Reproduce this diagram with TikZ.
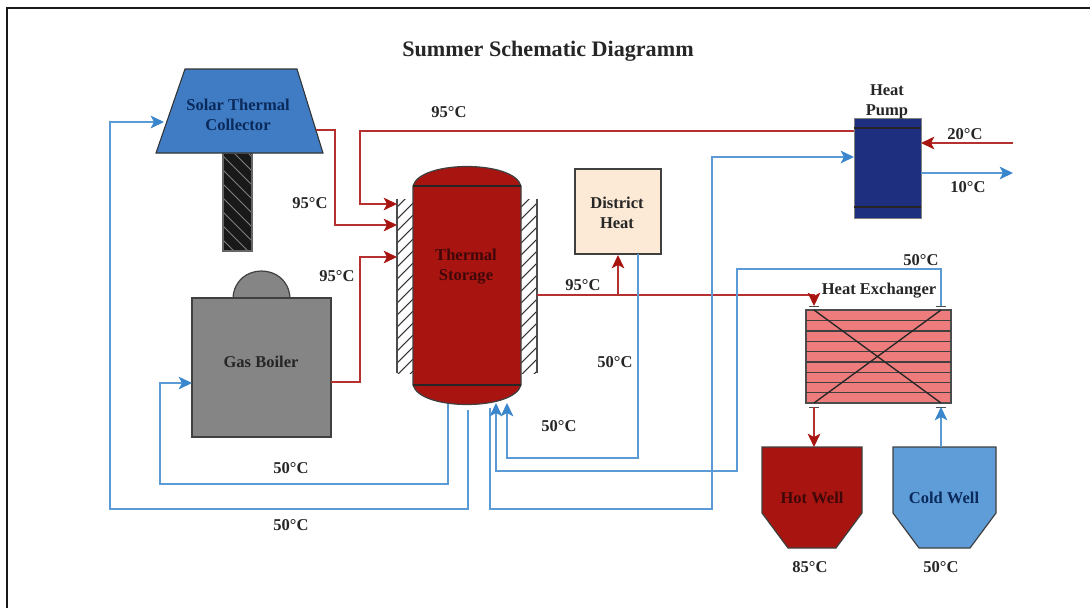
\documentclass[tikz,border=0pt]{standalone}
\usepackage{fontspec}
\setmainfont{Liberation Serif}
\usetikzlibrary{arrows.meta}
\definecolor{tankred}{HTML}{A81410}
\definecolor{pipered}{HTML}{B5302F}
\definecolor{pipeblue}{HTML}{5B9BD5}
\definecolor{tipblue}{HTML}{3A86CC}
\definecolor{solarblue}{HTML}{3F7CC4}
\definecolor{coldblue}{HTML}{5F9DD8}
\definecolor{pumpblue}{HTML}{1F2F7F}
\definecolor{boilergray}{HTML}{858585}
\definecolor{heatcream}{HTML}{FCE9D6}
\definecolor{hexred}{HTML}{EE7C7C}
\definecolor{textblue}{HTML}{0B2A5C}
\definecolor{textred}{HTML}{3F0808}
\tikzset{
    part/.style={draw=black!75, line width=0.9pt},
    label/.style={font=\bfseries\fontsize{12.4}{15}\selectfont, text=black!85, align=center, inner sep=0pt},
    hotpipe/.style={draw=pipered, line width=1.1pt},
    coldpipe/.style={draw=pipeblue, line width=1.1pt},
    hotflow/.style={hotpipe, -{Stealth[length=10pt,width=9.5pt,inset=2.5pt,color=tankred]}},
    coldflow/.style={coldpipe, -{Stealth[length=10pt,width=9.5pt,inset=2.5pt,color=tipblue]}},
}
\begin{document}
\begin{tikzpicture}[x=0.75pt, y=-0.75pt]
    \useasboundingbox (0,0) rectangle (1090,608);
    \draw[line width=1pt, black!90] (7,608) -- (7,8) -- (1090,8);
    \node[label, font=\bfseries\fontsize{16.6}{18}\selectfont] (title) at (548,51) {Summer Schematic Diagramm};

    % solar collector on its post
    \fill[black!90] (223,153) rectangle (252,251);
    \begin{scope}
        \clip (223,153) rectangle (252,251);
        \foreach \i in {0,14,...,126}
            \draw[black!50, line width=0.6pt] (215,120+\i) -- (260,165+\i);
    \end{scope}
    \draw[part, draw=black!60] (223,153) rectangle (252,251);
    \draw[draw=black!80, line width=0.8pt, fill=solarblue] (185,69) -- (297,69) -- (323,153) -- (156,153) -- cycle;
    \node[label, text=textblue] (solar) at (238,114.5) {Solar Thermal\\Collector};
    \coordinate (solarin) at (164,122);
    \coordinate (solarout) at (316,130);

    % gas boiler
    \draw[part, fill=boilergray] (233,298) .. controls (235,262) and (288,262) .. (290,298) -- cycle;
    \node[part, fill=boilergray, minimum width=104.25pt, minimum height=104.25pt, inner sep=0pt] (boiler) at (261.5,367.5) {};
    \node[label] (boilertext) at (261,362) {Gas Boiler};
    \coordinate (boilerin) at (192,383);
    \coordinate (boilerout) at (331,382);

    % thermal storage with its insulation
    \foreach \wall in {397,521}{
        \begin{scope}
            \clip (\wall,199) rectangle (\wall+16,373);
            \foreach \i in {0,12,...,192}
                \draw[black!80, line width=0.8pt] (\wall,207+\i) -- (\wall+16,191+\i);
        \end{scope}
    }
    \draw[black!70, line width=0.8pt] (397,199) -- (397,373);
    \draw[black!70, line width=0.8pt] (537,199) -- (537,373);
    \draw[part, fill=tankred] (413,186) .. controls (420,160) and (514,160) .. (521,186) -- (521,385)
        .. controls (514,411) and (420,411) .. (413,385) -- cycle;
    \draw[black!85, line width=0.9pt] (413,186) -- (521,186);
    \draw[black!85, line width=0.9pt] (413,385) -- (521,385);
    \node[label, text=textred] (storage) at (466,267) {Thermal\\Storage};
    \coordinate (storagea) at (397,204);
    \coordinate (storageb) at (397,225);
    \coordinate (storagec) at (397,257);
    \coordinate (storageout) at (537,295);
    \coordinate (storagereta) at (448,404);
    \coordinate (storageretb) at (468,410);
    \coordinate (storageretc) at (490,408);
    \coordinate (storageind) at (496,403);
    \coordinate (storageine) at (507,403);

    % district heat
    \node[part, fill=heatcream, minimum width=64.5pt, minimum height=63.75pt, inner sep=0pt] (district) at (618,211.5) {};
    \node[label] (districttext) at (617,213) {District\\Heat};
    \coordinate (districtin) at (618,255);
    \coordinate (districtout) at (638,254);
    \coordinate (branch) at (618,295);

    % heat pump
    \node[draw=black!50, line width=0.6pt, fill=pumpblue, minimum width=50.25pt, minimum height=75pt, inner sep=0pt] (pump) at (887.5,168) {};
    \draw[black!85, line width=0.8pt] (pump.west |- 0,128) -- (pump.east |- 0,128);
    \draw[black!85, line width=0.8pt] (pump.west |- 0,207) -- (pump.east |- 0,207);
    \node[label] (pumptext) at (887,102) {Heat\\Pump};
    \coordinate (pumphot) at (854,131);
    \coordinate (pumpcold) at (854,157);
    \coordinate (pumpin) at (921,143);
    \coordinate (pumpout) at (921,173);
    \coordinate (sourcein) at (1013,143);
    \coordinate (sourceout) at (1013,173);

    % heat exchanger
    \node[draw=black!70, line width=0.8pt, fill=hexred, minimum width=108.75pt, minimum height=69.75pt, inner sep=0pt] (hex) at (878.5,356.5) {};
    \foreach \y in {320.7,331,341.3,351.7,362,372.3,382.7,392.7}
        \draw[black!75, line width=0.9pt] (806,\y) -- (951,\y);
    \coordinate (hexa) at (814,306);
    \coordinate (hexb) at (941,306);
    \coordinate (hexc) at (814,407);
    \coordinate (hexd) at (941,407);
    \draw[black!85, line width=1pt] (hexa) ++ (0,4) -- (941,403);
    \draw[black!85, line width=1pt] (hexb) ++ (0,4) -- (814,403);
    \foreach \p in {hexa,hexb,hexc,hexd}
        \draw[black!70, line width=0.7pt] (\p) ++ (-5,0) -- ++ (10,0);
    \node[label] (hextext) at (879,290.5) {Heat Exchanger};

    % wells
    \draw[part, fill=tankred] (762,447) -- (862,447) -- (862,513) -- (836,548) -- (788,548) -- (762,513) -- cycle;
    \draw[part, fill=coldblue] (893,447) -- (996,447) -- (996,513) -- (970,548) -- (919,548) -- (893,513) -- cycle;
    \node[label, text=textred] (hot) at (812,498) {Hot Well};
    \node[label, text=textblue] (cold) at (944,498) {Cold Well};
    \coordinate (hottop) at (814,447);
    \coordinate (coldtop) at (941,447);

    % pipes
    \draw[hotflow] (solarout) -| (335,225) -- (storageb);
    \draw[hotflow] (pumphot) -| (360,204) -- (storagea);
    \draw[hotflow] (boilerout) -| (360,257) -- (storagec);
    \draw[hotpipe] (storageout) -- (branch);
    \draw[hotflow] (branch) -- (districtin);
    \draw[hotflow] (branch) -| (hexa);
    \draw[hotflow] (hexc) -- (hottop);
    \draw[hotflow] (sourcein) -- (pumpin);
    \draw[coldflow] (pumpout) -- (sourceout);
    \draw[coldflow] (storagereta) |- (160,484) |- (boilerin);
    \draw[coldflow] (storageretb) |- (110,509) |- (solarin);
    \draw[coldflow] (storageretc) |- (712,509) |- (pumpcold);
    \draw[coldflow] (districtout) |- (507,458) -- (storageine);
    \draw[coldflow] (hexb) |- (737,269) |- (496,471) -- (storageind);
    \draw[coldflow] (coldtop) -- (hexd);

    % temperatures
    \node[label] (ta) at (449,112) {95°C};
    \node[label] (tb) at (310,203) {95°C};
    \node[label] (tc) at (337,276) {95°C};
    \node[label] (td) at (583,285) {95°C};
    \node[label] (te) at (965,134) {20°C};
    \node[label] (tf) at (968,187) {10°C};
    \node[label] (tg) at (921,260) {50°C};
    \node[label] (th) at (615,362) {50°C};
    \node[label] (ti) at (559,426) {50°C};
    \node[label] (tj) at (291,468) {50°C};
    \node[label] (tk) at (291,525) {50°C};
    \node[label] (tl) at (810,567) {85°C};
    \node[label] (tm) at (941,567) {50°C};
\end{tikzpicture}
\end{document}
